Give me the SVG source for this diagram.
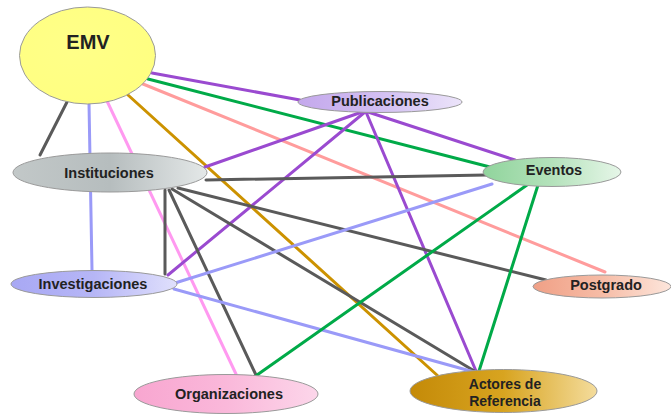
<svg xmlns="http://www.w3.org/2000/svg" width="671" height="415" viewBox="0 0 671 415">
<style>
.e{stroke:#9a9a9a;stroke-width:1}
.t{font-family:"Liberation Sans",Arial,sans-serif;font-weight:bold;font-size:14.5px;fill:#222;text-anchor:middle}
.c line{stroke-width:3;stroke-linecap:round}
.gy{stroke:#5a5a5a}.lb{stroke:#9a9af8}.pk{stroke:#ff99f0}.gd{stroke:#cc9200}.pu{stroke:#9a4ad0}.gr{stroke:#00aa48}.sa{stroke:#ff9c9c}
</style>
<defs>
<radialGradient id="gEMV" cx="0.4" cy="0.4" r="0.7"><stop offset="0" stop-color="#ffff88"/><stop offset="1" stop-color="#ffff80"/></radialGradient>
<linearGradient id="gPub"><stop offset="0" stop-color="#c4a8ec"/><stop offset="0.5" stop-color="#d2bff2"/><stop offset="1" stop-color="#ece4fa"/></linearGradient>
<linearGradient id="gEve"><stop offset="0" stop-color="#90d49c"/><stop offset="0.5" stop-color="#b4e2bb"/><stop offset="1" stop-color="#e6f6e8"/></linearGradient>
<linearGradient id="gIns"><stop offset="0" stop-color="#c2c8c8"/><stop offset="0.5" stop-color="#b6bdbe"/><stop offset="1" stop-color="#e4e8e8"/></linearGradient>
<linearGradient id="gInv"><stop offset="0" stop-color="#a8a8f4"/><stop offset="0.5" stop-color="#b6b6f6"/><stop offset="1" stop-color="#e0e0fc"/></linearGradient>
<linearGradient id="gPos"><stop offset="0" stop-color="#f0a086"/><stop offset="0.5" stop-color="#f6bca6"/><stop offset="1" stop-color="#fde6dc"/></linearGradient>
<linearGradient id="gOrg"><stop offset="0" stop-color="#f8a6d0"/><stop offset="0.5" stop-color="#fab8da"/><stop offset="1" stop-color="#fcd6ea"/></linearGradient>
<linearGradient id="gAct"><stop offset="0" stop-color="#c48a08"/><stop offset="0.5" stop-color="#d8a420"/><stop offset="1" stop-color="#f4dc9c"/></linearGradient>
</defs>
<g id="connectors" class="c">
<line class="gy" x1="67" y1="102" x2="40" y2="155"/>
<line class="lb" x1="89" y1="103" x2="92" y2="270"/>
<line class="pk" x1="107" y1="101" x2="236" y2="374"/>
<line class="gd" x1="128" y1="95" x2="438" y2="376"/>
<line class="pu" x1="152" y1="73" x2="300" y2="100"/>
<line class="gr" x1="148" y1="79" x2="490" y2="167"/>
<line class="sa" x1="143" y1="84" x2="605" y2="272"/>
<line class="pu" x1="362" y1="112" x2="205" y2="167"/>
<line class="pu" x1="365" y1="112" x2="168" y2="275"/>
<line class="pu" x1="368" y1="112" x2="515" y2="160"/>
<line class="pu" x1="366" y1="112" x2="476" y2="371"/>
<line class="gy" x1="206" y1="180" x2="486" y2="175"/>
<line class="gy" x1="165" y1="190" x2="165" y2="274"/>
<line class="gy" x1="169" y1="190" x2="256" y2="375"/>
<line class="gy" x1="172" y1="189" x2="476" y2="372"/>
<line class="gy" x1="178" y1="188" x2="546" y2="280"/>
<line class="lb" x1="175" y1="283" x2="492" y2="184"/>
<line class="lb" x1="174" y1="289" x2="474" y2="372"/>
<line class="gr" x1="527" y1="185" x2="257" y2="375"/>
<line class="gr" x1="538" y1="185" x2="479" y2="371"/>
</g>
<g id="EMV"><ellipse class="e" cx="87.5" cy="55.5" rx="68" ry="48.5" fill="url(#gEMV)"/><text class="t" x="88" y="49" style="font-size:20px">EMV</text></g>
<g id="Publicaciones"><ellipse class="e" cx="380" cy="102" rx="82" ry="10.5" fill="url(#gPub)"/><text class="t" x="380" y="106">Publicaciones</text></g>
<g id="Eventos"><ellipse class="e" cx="552" cy="172" rx="69" ry="14.5" fill="url(#gEve)"/><text class="t" x="554" y="175">Eventos</text></g>
<g id="Instituciones"><ellipse class="e" cx="110" cy="172.5" rx="97" ry="19.5" fill="url(#gIns)"/><text class="t" x="109" y="178">Instituciones</text></g>
<g id="Investigaciones"><ellipse class="e" cx="94" cy="284" rx="83" ry="13.5" fill="url(#gInv)"/><text class="t" x="93" y="289">Investigaciones</text></g>
<g id="Postgrado"><ellipse class="e" cx="602" cy="286.5" rx="69" ry="11.5" fill="url(#gPos)"/><text class="t" x="606" y="290">Postgrado</text></g>
<g id="Organizaciones"><ellipse class="e" cx="226" cy="394" rx="92" ry="19.5" fill="url(#gOrg)"/><text class="t" x="229" y="399">Organizaciones</text></g>
<g id="Actores"><ellipse class="e" cx="503.5" cy="391" rx="93.5" ry="21.5" fill="url(#gAct)"/><text class="t" x="505" y="389" style="font-size:14px">Actores de</text><text class="t" x="505" y="405.5" style="font-size:14px">Referencia</text></g>
</svg>
